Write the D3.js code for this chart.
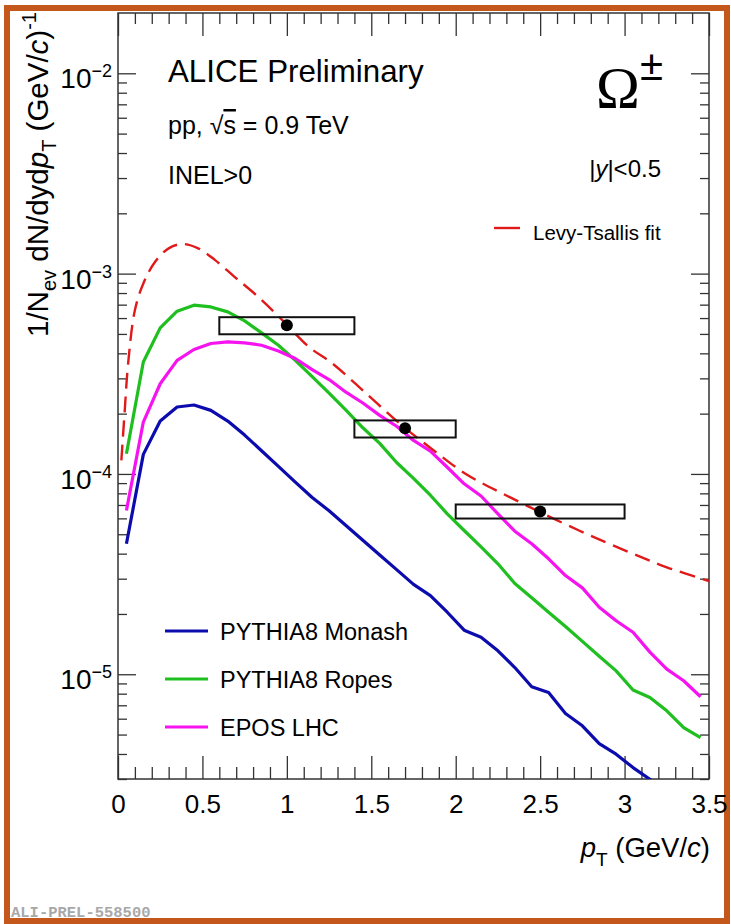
<!DOCTYPE html>
<html><head><meta charset="utf-8">
<script src="https://cdn.jsdelivr.net/npm/d3@7"></script>
<style>
body{margin:0;background:#fff}
svg{display:block}
text{font-family:"Liberation Sans",Arial,Helvetica,sans-serif;fill:#000}
</style>
</head><body>
<svg id="c" width="731" height="924"></svg>
<script>
// ---------- data ----------
const mcPt = [0.05,0.15,0.25,0.35,0.45,0.55,0.65,0.75,0.85,0.95,1.05,1.15,1.25,1.35,1.45,1.55,1.65,1.75,1.85,1.95,2.05,2.15,2.25,2.35,2.45,2.55,2.65,2.75,2.85,2.95,3.05,3.15,3.25,3.35,3.45];
const monash = [4.48e-5,1.252e-4,1.837e-4,2.158e-4,2.208e-4,2.077e-4,1.837e-4,1.563e-4,1.306e-4,1.09e-4,9.1e-5,7.63e-5,6.55e-5,5.53e-5,4.67e-5,3.94e-5,3.33e-5,2.81e-5,2.47e-5,2.04e-5,1.66e-5,1.53e-5,1.31e-5,1.08e-5,8.66e-6,8.11e-6,6.37e-6,5.53e-6,4.51e-6,3.99e-6,3.42e-6,2.99e-6,2.6e-6,2.2e-6,1.9e-6];
const ropes = [1.262e-4,3.62e-4,5.36e-4,6.49e-4,6.96e-4,6.82e-4,6.44e-4,5.81e-4,5.06e-4,4.39e-4,3.69e-4,3.06e-4,2.53e-4,2.08e-4,1.7e-4,1.42e-4,1.14e-4,9.5e-5,7.83e-5,6.32e-5,5.22e-5,4.32e-5,3.56e-5,2.84e-5,2.41e-5,2.04e-5,1.73e-5,1.46e-5,1.23e-5,1.04e-5,8.34e-6,7.66e-6,6.57e-6,5.42e-6,4.83e-6];
const epos = [6.57e-5,1.816e-4,2.82e-4,3.69e-4,4.18e-4,4.48e-4,4.56e-4,4.51e-4,4.39e-4,4.11e-4,3.77e-4,3.32e-4,2.96e-4,2.56e-4,2.26e-4,1.96e-4,1.73e-4,1.47e-4,1.3e-4,1.08e-4,8.93e-5,7.76e-5,6.32e-5,5.18e-5,4.48e-5,3.77e-5,3.11e-5,2.7e-5,2.16e-5,1.85e-5,1.62e-5,1.29e-5,1.06e-5,9.28e-6,7.72e-6];
const fitPt = [0.02,0.04,0.06,0.10,0.15,0.22,0.30,0.38,0.475,0.575,0.69,0.83,0.97,1.13,1.27,1.47,1.67,1.87,2.06,2.32,2.73,3.03,3.25,3.5];
const fitVal = [1.168e-4,2.08e-4,3.56e-4,6.57e-4,8.93e-4,1.146e-3,1.337e-3,1.405e-3,1.337e-3,1.168e-3,9.64e-4,7.66e-4,5.9e-4,4.31e-4,3.56e-4,2.52e-4,1.78e-4,1.31e-4,1.0e-4,7.66e-5,5.22e-5,4.06e-5,3.42e-5,2.92e-5];
const dataPt = [1.0,1.7,2.5];
const dataVal = [5.53e-4,1.69e-4,6.5e-5];
const sysXLow = [0.6,1.4,2.0];
const sysXHigh = [1.4,2.0,3.0];
const sysYHigh = [6.06e-4,1.85e-4,7.04e-5];
const sysYLow = [4.98e-4,1.52e-4,5.99e-5];
const xMajor = [0,0.5,1,1.5,2,2.5,3,3.5];
const xTickLabels = ["0","0.5","1","1.5","2","2.5","3","3.5"];
const yMajor = [1e-5,1e-4,1e-3,1e-2];
const yTickExp = ["\u22125","\u22124","\u22123","\u22122"];
const legendNames = ["PYTHIA8 Monash","PYTHIA8 Ropes","EPOS LHC"];
const colors = {monash:"#0c0cae", ropes:"#1fbf1f", epos:"#f514f0", fit:"#e01a1a"};

// ---------- setup ----------
const svg = d3.select("#c");
const L = 118, R = 709, T = 13, B = 779;
const x = d3.scaleLinear().domain([0,3.5]).range([L,R]);
const y = d3.scaleLog().domain([3e-6,2e-2]).range([B,T]);

// orange border
svg.append("rect").attr("x",7).attr("y",8).attr("width",720).attr("height",913)
  .attr("fill","none").attr("stroke","#c4571c").attr("stroke-width",6);

svg.append("clipPath").attr("id","clip").append("rect")
  .attr("x",L).attr("y",T).attr("width",R-L).attr("height",B-T);

// minor ticks
const xMinor = [];
for (let i=1;i<35;i++){ if (i%5!==0) xMinor.push(i/10); }
const yMinor = [];
for (let e=-6;e<=-2;e++) for (let m=2;m<=9;m++){ const v=m*Math.pow(10,e); if (v>=3e-6 && v<2e-2) yMinor.push(v); }

function styleAxis(g){
  g.select(".domain").remove();
  g.selectAll(".tick line").attr("stroke","#333").attr("stroke-width",1.3);
}
// bottom
svg.append("g").attr("transform",`translate(0,${B})`)
  .call(d3.axisBottom(x).tickValues(xMinor).tickSize(-12).tickSizeOuter(0).tickFormat("")).call(styleAxis);
const xa = svg.append("g").attr("transform",`translate(0,${B})`)
  .call(d3.axisBottom(x).tickValues(xMajor).tickSize(-23).tickSizeOuter(0).tickPadding(16)
    .tickFormat((d,i)=>xTickLabels[i])).call(styleAxis);
xa.selectAll("text").attr("font-size",26).attr("font-family","Liberation Sans, Arial, sans-serif").attr("fill","#000");
// top
svg.append("g").attr("transform",`translate(0,${T})`)
  .call(d3.axisTop(x).tickValues(xMinor).tickSize(-11).tickSizeOuter(0).tickFormat("")).call(styleAxis);
svg.append("g").attr("transform",`translate(0,${T})`)
  .call(d3.axisTop(x).tickValues(xMajor).tickSize(-23).tickSizeOuter(0).tickFormat("")).call(styleAxis);
// left
svg.append("g").attr("transform",`translate(${L},0)`)
  .call(d3.axisLeft(y).tickValues(yMinor).tickSize(-9).tickSizeOuter(0).tickFormat("")).call(styleAxis);
svg.append("g").attr("transform",`translate(${L},0)`)
  .call(d3.axisLeft(y).tickValues(yMajor).tickSize(-18).tickSizeOuter(0).tickFormat("")).call(styleAxis);
// right
svg.append("g").attr("transform",`translate(${R},0)`)
  .call(d3.axisRight(y).tickValues(yMinor).tickSize(-9).tickSizeOuter(0).tickFormat("")).call(styleAxis);
svg.append("g").attr("transform",`translate(${R},0)`)
  .call(d3.axisRight(y).tickValues(yMajor).tickSize(-18).tickSizeOuter(0).tickFormat("")).call(styleAxis);

// y tick labels 10^n
yMajor.forEach((v,i)=>{
  const t = svg.append("text").attr("x",112).attr("y",y(v)+15).attr("text-anchor","end");
  t.append("tspan").attr("font-size",28).text("10");
  t.append("tspan").attr("font-size",18).attr("dy",-11).text(yTickExp[i]);
});

// frame
svg.append("rect").attr("x",L).attr("y",T).attr("width",R-L).attr("height",B-T)
  .attr("fill","none").attr("stroke","#333").attr("stroke-width",1.5);

// curves
const plot = svg.append("g").attr("clip-path","url(#clip)");
const mcLine = d3.line().x((d,i)=>x(mcPt[i])).y(d=>y(d));
[[monash,colors.monash],[ropes,colors.ropes],[epos,colors.epos]].forEach(([arr,c])=>{
  plot.append("path").attr("d",mcLine(arr)).attr("fill","none").attr("stroke",c)
    .attr("stroke-width",3.2).attr("stroke-linejoin","round");
});
const fitLine = d3.line().x((d,i)=>x(fitPt[i])).y(d=>y(d)).curve(d3.curveCatmullRom.alpha(0.5));
plot.append("path").attr("d",fitLine(fitVal)).attr("fill","none").attr("stroke",colors.fit)
  .attr("stroke-width",2.4).attr("stroke-dasharray","16,8");

// data: sys boxes + points
dataPt.forEach((p,i)=>{
  plot.append("rect").attr("x",x(sysXLow[i])).attr("y",y(sysYHigh[i]))
    .attr("width",x(sysXHigh[i])-x(sysXLow[i])).attr("height",y(sysYLow[i])-y(sysYHigh[i]))
    .attr("fill","none").attr("stroke","#111").attr("stroke-width",2);
});
dataPt.forEach((p,i)=>{
  plot.append("circle").attr("cx",x(p)).attr("cy",y(dataVal[i])).attr("r",6).attr("fill","#000");
});

// texts
svg.append("text").attr("x",168).attr("y",82).attr("font-size",31.3).text("ALICE Preliminary");
const pp = svg.append("text").attr("x",168).attr("y",134).attr("font-size",25);
pp.append("tspan").text("pp, \u221A");
pp.append("tspan").attr("text-decoration","overline").text("s");
pp.append("tspan").text(" = 0.9 TeV");
svg.append("text").attr("x",168).attr("y",184).attr("font-size",25).text("INEL>0");

svg.append("text").attr("x",596).attr("y",108).attr("font-size",59)
  .style("font-family","Liberation Serif, Times New Roman, serif").text("\u03A9");
svg.append("text").attr("x",640).attr("y",80).attr("font-size",42).text("\u00B1");
const yy = svg.append("text").attr("x",661).attr("y",177).attr("font-size",24).attr("text-anchor","end");
yy.append("tspan").text("|");
yy.append("tspan").attr("font-style","italic").text("y");
yy.append("tspan").text("|<0.5");

// fit legend
svg.append("line").attr("x1",494).attr("x2",520).attr("y1",228).attr("y2",228)
  .attr("stroke",colors.fit).attr("stroke-width",2.4);
svg.append("text").attr("x",533).attr("y",240).attr("font-size",20.5).text("Levy-Tsallis fit");

// MC legend
[colors.monash,colors.ropes,colors.epos].forEach((c,i)=>{
  const ly = 631 + i*48;
  svg.append("line").attr("x1",165).attr("x2",208).attr("y1",ly).attr("y2",ly)
    .attr("stroke",c).attr("stroke-width",3.2);
  svg.append("text").attr("x",220).attr("y",ly+9).attr("font-size",23.5).text(legendNames[i]);
});

// x axis title
const xt = svg.append("text").attr("x",710).attr("y",857).attr("font-size",27.5).attr("text-anchor","end");
xt.append("tspan").attr("font-style","italic").text("p");
xt.append("tspan").attr("font-size",19).attr("dy",9).text("T");
xt.append("tspan").attr("dy",-9).text(" (GeV/");
xt.append("tspan").attr("font-style","italic").text("c");
xt.append("tspan").text(")");

// y axis title
const ytg = svg.append("g").attr("transform","translate(48,12) rotate(-90)");
const yt = ytg.append("text").attr("x",0).attr("y",0).attr("font-size",29.5).attr("text-anchor","end");
yt.append("tspan").text("1/N");
yt.append("tspan").attr("font-size",20).attr("dy",8).text("ev");
yt.append("tspan").attr("dy",-8).text(" dN/dyd");
yt.append("tspan").attr("font-style","italic").text("p");
yt.append("tspan").attr("font-size",20).attr("dy",8).text("T");
yt.append("tspan").attr("dy",-8).text(" (GeV/");
yt.append("tspan").attr("font-style","italic").text("c");
yt.append("tspan").text(")");
yt.append("tspan").attr("font-size",20).attr("dy",-12).text("-1");

// watermark
svg.append("text").attr("x",11).attr("y",917).attr("font-size",15.5).attr("font-weight","bold")
  .style("font-family","Liberation Mono, Courier New, monospace").style("fill","#a8a8a8").text("ALI-PREL-558500");
</script>
</body></html>
